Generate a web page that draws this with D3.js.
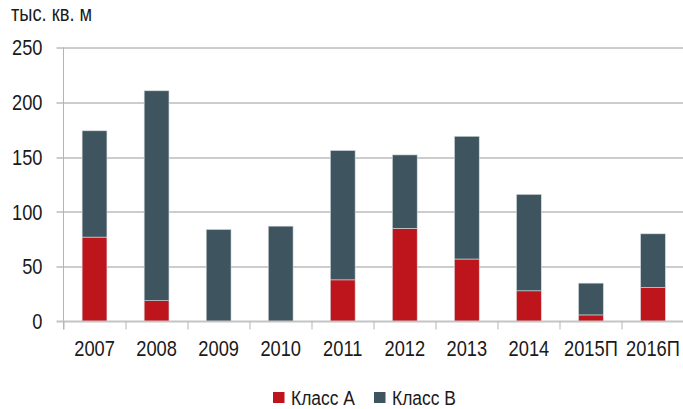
<!DOCTYPE html>
<html>
<head>
<meta charset="utf-8">
<script src="https://cdn.jsdelivr.net/npm/d3@7"></script>
<style>
  body { margin: 0; background: #fff; }
  text { font-family: "Liberation Sans", Arial, sans-serif; fill: #1a1a1a; }
</style>
</head>
<body>
<div id="chart"></div>
<script>
// data
var years = ["2007", "2008", "2009", "2010", "2011", "2012", "2013", "2014", "2015П", "2016П"];
var classA = [77, 19, 0, 0, 38, 85, 57, 28, 6, 31];
var classB = [97, 191.5, 84, 87, 118, 67, 112, 88, 29, 49];
var yTicks = [0, 50, 100, 150, 200, 250];
var seriesNames = ["Класс А", "Класс В"];
var seriesColors = ["#be151d", "#3e5560"];

var width = 683, height = 409;
var margin = { top: 47.5, right: -1, bottom: 87.5, left: 63.5 };
var innerwidth = width - margin.left - margin.right,
    innerheight = height - margin.top - margin.bottom;
// the original font is a condensed sans, squeeze Liberation Sans a bit
var SQ = 0.83;

var rows = years.map(function (y, i) { return { year: y, a: classA[i], b: classB[i] }; });
var stacked = d3.stack().keys(["a", "b"])(rows);

var x_scale = d3.scaleBand().domain(years).range([0, innerwidth]).paddingInner(0.6).paddingOuter(0.3);
var y_scale = d3.scaleLinear().domain([0, 250]).range([innerheight, 0]);

function squeezed(x, y) {
    return "translate(" + x + "," + y + ") scale(" + SQ + ",1)";
}

var svg = d3.select("#chart").append("svg")
    .attr("width", width)
    .attr("height", height);

svg.append("text")
    .attr("transform", squeezed(11, 21))
    .style("font-size", "22px")
    .text("тыс. кв. м");

var g = svg.append("g")
    .attr("transform", "translate(" + margin.left + "," + margin.top + ")");

// gridlines
g.append("g")
    .selectAll("line")
    .data(yTicks.filter(function (d) { return d > 0; }))
    .enter().append("line")
    .attr("x1", -7)
    .attr("x2", innerwidth)
    .attr("y1", function (d) { return Math.round(y_scale(d)) + 0.5; })
    .attr("y2", function (d) { return Math.round(y_scale(d)) + 0.5; })
    .attr("stroke", "#9a9a9a")
    .attr("stroke-width", 1);

// y axis line
g.append("line")
    .attr("x1", 0).attr("x2", 0)
    .attr("y1", 0).attr("y2", innerheight + 8)
    .attr("stroke", "#b5b5b5");

// y labels
g.append("g")
    .selectAll("text")
    .data(yTicks)
    .enter().append("text")
    .attr("transform", function (d) { return squeezed(-21, y_scale(d)); })
    .attr("dy", "0.35em")
    .attr("text-anchor", "end")
    .style("font-size", "22px")
    .text(function (d) { return d; });

// bars
var layers = g.selectAll(".layer")
    .data(stacked)
    .enter().append("g")
    .attr("class", "layer")
    .attr("fill", function (d, i) { return seriesColors[i]; });

layers.selectAll("rect")
    .data(function (d) { return d.filter(function (p) { return p[1] > p[0]; }); })
    .enter().append("rect")
    .attr("x", function (d) { return x_scale(d.data.year); })
    .attr("width", x_scale.bandwidth())
    .attr("y", function (d) { return y_scale(d[1]); })
    .attr("height", function (d) { return y_scale(d[0]) - y_scale(d[1]); })
    .attr("stroke", "#d6dcdf")
    .attr("stroke-width", 0.6);

// x axis line and category ticks
g.append("line")
    .attr("x1", -7).attr("x2", innerwidth)
    .attr("y1", innerheight).attr("y2", innerheight)
    .attr("stroke", "#c4c4c4")
    .attr("stroke-width", 2);

var step = x_scale.step();
g.append("g")
    .selectAll("line")
    .data(d3.range(years.length + 1))
    .enter().append("line")
    .attr("x1", function (i) { return Math.round(i * step) + 0.5; })
    .attr("x2", function (i) { return Math.round(i * step) + 0.5; })
    .attr("y1", innerheight)
    .attr("y2", innerheight + 8)
    .attr("stroke", "#b5b5b5");

g.append("g")
    .selectAll("text")
    .data(years)
    .enter().append("text")
    .attr("transform", function (d) { return squeezed(x_scale(d) + x_scale.bandwidth() / 2, innerheight + 34); })
    .attr("text-anchor", "middle")
    .style("font-size", "22px")
    .text(function (d) { return d; });

// legend
var legendX = [273, 374];
var legend = svg.append("g")
    .selectAll("g")
    .data(seriesNames)
    .enter().append("g")
    .attr("transform", function (d, i) { return "translate(" + legendX[i] + ",392)"; });

legend.append("rect")
    .attr("width", 11.5)
    .attr("height", 11)
    .attr("fill", function (d, i) { return seriesColors[i]; });

legend.append("text")
    .attr("transform", squeezed(18, 13))
    .style("font-size", "21px")
    .text(function (d) { return d; });
</script>
</body>
</html>
